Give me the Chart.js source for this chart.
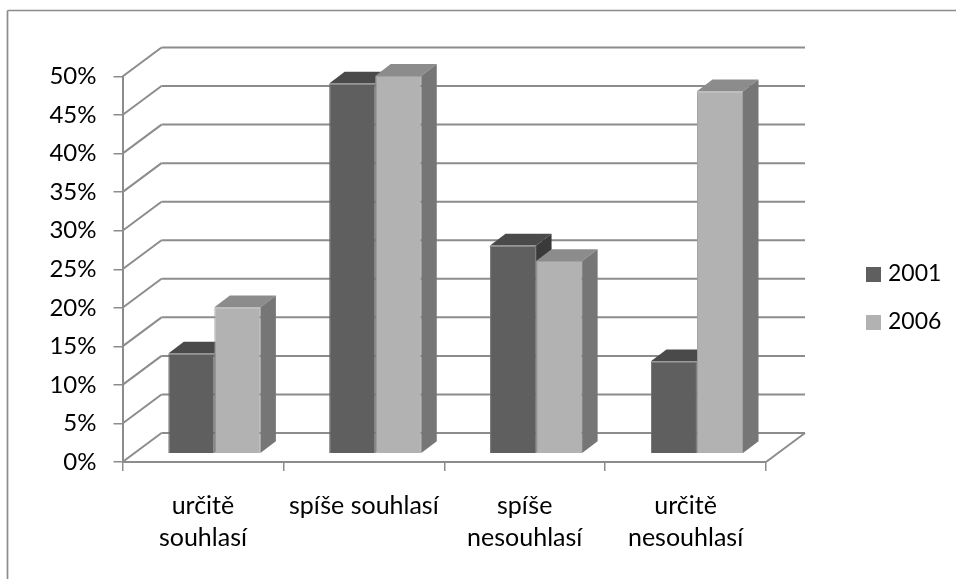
<!DOCTYPE html>
<html>
<head>
<meta charset="utf-8">
<style>
html, body { margin: 0; padding: 0; background: #fff; }
canvas { display: block; }
</style>
<script src="https://cdn.jsdelivr.net/npm/chart.js@4/dist/chart.umd.min.js"></script>
</head>
<body>
<canvas id="chart" width="956" height="579"></canvas>
<script>
var categories = [['určitě', 'souhlasí'], 'spíše souhlasí', ['spíše', 'nesouhlasí'], ['určitě', 'nesouhlasí']];
var values2001 = [13, 48, 27, 12];
var values2006 = [19, 49, 25, 47];
var seriesNames = ['2001', '2006'];

var lineColor = '#8c8c8c';
var fontName = 'Lato, "Open Sans", sans-serif';

// 3D look of the old spreadsheet chart
var wallX = 39, wallY = -29;     // back wall offset from the axes
var barX = 11.4, barY = -8.3;    // where the bar fronts stand on the floor
var depthX = 15.5, depthY = -11.8;

var faces = [
    { top: '#4a4a4a', side: '#3a3a3a' },
    { top: '#8c8c8c', side: '#767676' }
];

function line(ctx, x1, y1, x2, y2) {
    ctx.beginPath();
    ctx.moveTo(x1, y1);
    ctx.lineTo(x2, y2);
    ctx.stroke();
}

function poly(ctx, pts, color) {
    ctx.fillStyle = color;
    ctx.beginPath();
    ctx.moveTo(pts[0][0], pts[0][1]);
    for (var i = 1; i < pts.length; i++) {
        ctx.lineTo(pts[i][0], pts[i][1]);
    }
    ctx.closePath();
    ctx.fill();
}

var box3d = {
    id: 'box3d',
    beforeDraw: function(chart) {
        // chart frame, only left and top are inside the crop
        var ctx = chart.ctx;
        ctx.save();
        ctx.strokeStyle = lineColor;
        ctx.lineWidth = 1.7;
        line(ctx, 7.5, 579, 7.5, 10.5);
        line(ctx, 7.5, 10.5, 956, 10.5);
        ctx.restore();
    },
    beforeDatasetsDraw: function(chart) {
        var ctx = chart.ctx;
        var x = chart.scales.x, y = chart.scales.y;
        ctx.save();
        ctx.strokeStyle = lineColor;
        ctx.lineWidth = 2;
        y.ticks.forEach(function(t) {
            var py = y.getPixelForValue(t.value);
            line(ctx, x.left, py, x.left + wallX, py + wallY);
            line(ctx, x.left + wallX, py + wallY, x.right + wallX, py + wallY);
        });
        var py0 = y.getPixelForValue(0);
        line(ctx, x.right, py0, x.right + wallX, py0 + wallY);

        // tops and sides first, the fronts come from the bar elements
        chart.data.datasets.forEach(function(ds, d) {
            chart.getDatasetMeta(d).data.forEach(function(bar) {
                var l = bar.x - bar.width / 2 + barX;
                var r = bar.x + bar.width / 2 + barX;
                var t = bar.y + barY;
                var b = bar.base + barY;
                poly(ctx, [[l, t], [r, t], [r + depthX, t + depthY], [l + depthX, t + depthY]], faces[d].top);
                poly(ctx, [[r, t], [r + depthX, t + depthY], [r + depthX, b + depthY], [r, b]], faces[d].side);
            });
        });
        ctx.restore();
    },
    beforeDatasetDraw: function(chart) {
        chart.ctx.save();
        chart.ctx.translate(barX, barY);
    },
    afterDatasetDraw: function(chart) {
        chart.ctx.restore();
    },
    afterDraw: function(chart) {
        var ctx = chart.ctx;
        ctx.save();
        ctx.font = '23px ' + fontName;
        ctx.textBaseline = 'middle';
        chart.data.datasets.forEach(function(ds, d) {
            var top = 267 + d * 48;
            ctx.fillStyle = ds.backgroundColor;
            ctx.fillRect(866, top, 15, 15);
            ctx.fillStyle = '#000';
            ctx.fillText(ds.label, 888, top + 7);
        });
        ctx.restore();
    }
};

var ctx = document.getElementById('chart').getContext('2d');
new Chart(ctx, {
    type: 'bar',
    data: {
        labels: categories,
        datasets: [
            { label: seriesNames[0], data: values2001, backgroundColor: '#5f5f5f', borderColor: '#727272', borderWidth: 1, clip: false },
            { label: seriesNames[1], data: values2006, backgroundColor: '#b2b2b2', borderColor: '#a2a2a2', borderWidth: 1, clip: false }
        ]
    },
    options: {
        responsive: false,
        animation: false,
        layout: { padding: { left: 0, top: 76.5, right: 190, bottom: 0 } },
        plugins: {
            legend: { display: false },
            tooltip: { enabled: false }
        },
        datasets: {
            bar: { categoryPercentage: 0.5725, barPercentage: 1 }
        },
        scales: {
            x: {
                afterFit: function(s) { s.height = 117; },
                border: { color: lineColor, width: 2 },
                grid: { drawOnChartArea: false, color: lineColor, lineWidth: 1.5, tickLength: 9 },
                ticks: {
                    color: '#000',
                    maxRotation: 0,
                    autoSkip: false,
                    padding: 19,
                    font: { family: fontName, size: 25, lineHeight: 1.28 }
                }
            },
            y: {
                min: 0,
                max: 50,
                afterFit: function(s) { s.width = 122.5; },
                border: { color: lineColor, width: 2 },
                grid: { drawOnChartArea: false, color: lineColor, lineWidth: 1.5, tickLength: 9 },
                ticks: {
                    stepSize: 5,
                    color: '#000',
                    padding: 17,
                    font: { family: fontName, size: 24 },
                    callback: function(v) { return v + '%'; }
                }
            }
        }
    },
    plugins: [box3d]
});
</script>
</body>
</html>
